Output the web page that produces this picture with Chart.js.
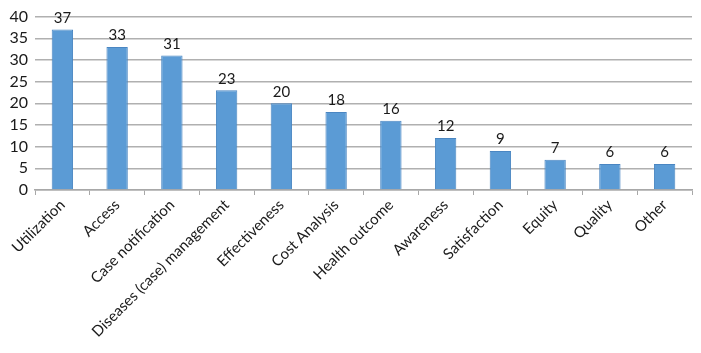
<!DOCTYPE html>
<html><head><meta charset="utf-8">
<script src="https://cdn.jsdelivr.net/npm/chart.js@4/dist/chart.umd.min.js"></script>
<style>html,body{margin:0;padding:0;background:#fff}#wrap{width:701px;height:353px}</style>
</head><body><div id="wrap"><canvas id="c" width="701" height="353"></canvas></div>
<script>
const categories = ["Utilization","Access","Case notification","Diseases (case) management","Effectiveness","Cost Analysis","Health outcome","Awareness","Satisfaction","Equity","Quality","Other"];
const counts = [37,33,31,23,20,18,16,12,9,7,6,6];
const yTicks = [0,5,10,15,20,25,30,35,40];

const FONT = "Lato, 'Open Sans', sans-serif";
const valueLabels = {
  id: 'valueLabels',
  afterDatasetsDraw(chart) {
    const ctx = chart.ctx;
    const meta = chart.getDatasetMeta(0);
    ctx.save();
    ctx.font = "15px " + FONT;
    ctx.fillStyle = "#1a1a1a";
    ctx.textAlign = "center";
    ctx.textBaseline = "bottom";
    meta.data.forEach((bar, i) => {
      ctx.fillText(String(counts[i]), bar.x, bar.y - 4);
    });
    ctx.restore();
  }
};

new Chart(document.getElementById('c'), {
  type: 'bar',
  data: { labels: categories, datasets: [{ data: counts, backgroundColor: '#5b9bd5', borderColor: '#4a86c2', borderWidth: 1, categoryPercentage: 1, barPercentage: 0.39 }] },
  options: {
    responsive: false, animation: false,
    layout: { padding: { top: 15, right: 9, left: 0, bottom: 0 } },
    plugins: { legend: { display: false }, tooltip: { enabled: false } },
    scales: {
      x: {
        grid: { offset: true, drawOnChartArea: false, drawTicks: true, tickLength: 5, color: '#a8a8a8' },
        border: { display: true, color: '#a8a8a8', width: 1.5 },
        ticks: { minRotation: 45, maxRotation: 45, autoSkip: false, color: '#1a1a1a', font: { family: FONT, size: 15 }, padding: 1 },
        afterFit(s) { s.height = 163; }
      },
      y: {
        min: 0, max: 40,
        afterBuildTicks(s) { s.ticks = yTicks.map(v => ({ value: v })); },
        grid: { color: '#b0b0b0', lineWidth: 1.5, drawTicks: false },
        border: { display: false },
        ticks: { autoSkip: false, color: '#1a1a1a', font: { family: FONT, size: 16 }, padding: 7 },
        afterFit(s) { s.width = 35; }
      }
    }
  },
  plugins: [valueLabels]
});
</script></body></html>
